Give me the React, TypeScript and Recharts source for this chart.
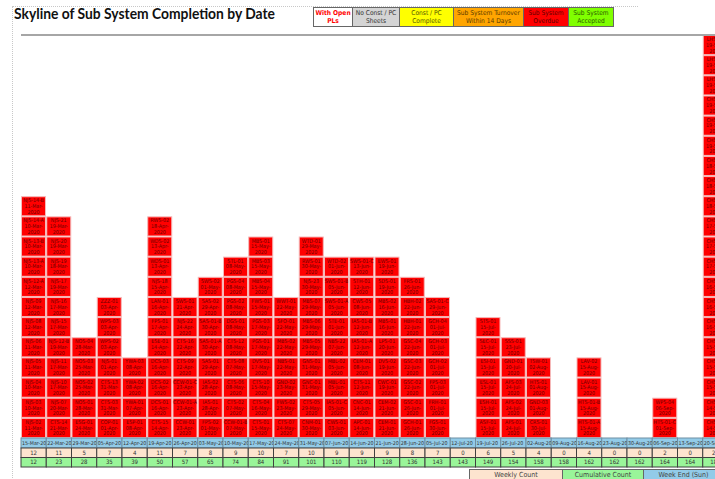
import React from 'react';
import { BarChart, Bar, XAxis, YAxis, ReferenceLine } from 'recharts';

const weeks = [
  '15-Mar-20', '22-Mar-20', '29-Mar-20', '05-Apr-20', '12-Apr-20', '19-Apr-20', '26-Apr-20',
  '03-May-20', '10-May-20', '17-May-20', '24-May-20', '31-May-20', '07-Jun-20', '14-Jun-20',
  '21-Jun-20', '28-Jun-20', '05-Jul-20', '12-Jul-20', '19-Jul-20', '26-Jul-20', '02-Aug-20',
  '09-Aug-20', '16-Aug-20', '23-Aug-20', '30-Aug-20', '06-Sep-20', '13-Sep-20', '20-Sep-20',
];

const weeklyCount = [12, 11, 5, 7, 4, 11, 7, 8, 9, 10, 7, 10, 9, 9, 9, 8, 7, 0, 6, 5, 4, 0, 4, 0, 0, 2, 0, 20];

const cumulativeCount = [12, 23, 28, 35, 39, 50, 57, 65, 74, 84, 91, 101, 110, 119, 128, 136, 143, 143, 149, 154, 158, 158, 162, 162, 162, 164, 164, 184];

// sub systems completed each week, listed bottom to top
const subsystems: string[][] = [
  ['NJS-02 11-Mar-2020', 'NJS-03 10-Mar-2020', 'NJS-04 10-Mar-2020', 'NJS-05 11-Mar-2020', 'NJS-06 11-Mar-2020', 'NJS-08 12-Mar-2020', 'NJS-09 12-Mar-2020', 'NJS-12-A 12-Mar-2020', 'NJS-13-A 10-Mar-2020', 'NJS-13-B 10-Mar-2020', 'NJS-14-A 10-Mar-2020', 'NJS-14-B 11-Mar-2020'],
  ['CTS-14 21-Mar-2020', 'NJS-07 20-Mar-2020', 'NJS-10 17-Mar-2020', 'NJS-11 17-Mar-2020', 'NJS-12-B 19-Mar-2020', 'NJS-15 17-Mar-2020', 'NJS-16 17-Mar-2020', 'NJS-17 19-Mar-2020', 'NJS-19 18-Mar-2020', 'NJS-20 19-Mar-2020', 'NJS-21 19-Mar-2020'],
  ['ESG-01 24-Mar-2020', 'NOS-01 28-Mar-2020', 'NOS-02 25-Mar-2020', 'NOS-03 25-Mar-2020', 'NOS-04 28-Mar-2020'],
  ['COP-01 01-Apr-2020', 'CTS-03 31-Mar-2020', 'CTS-13 31-Mar-2020', 'NJS-01 01-Apr-2020', 'WPS-02 03-Apr-2020', 'WPS-03 03-Apr-2020', 'ZZZ-01 03-Apr-2020'],
  ['ESP-01 08-Apr-2020', 'YWA-01 07-Apr-2020', 'YWA-02 08-Apr-2020', 'YWA-03 08-Apr-2020'],
  ['CTS-15 14-Apr-2020', 'DCS-01 16-Apr-2020', 'DCS-02 16-Apr-2020', 'DCS-03 16-Apr-2020', 'ESE-01 14-Apr-2020', 'FPS-01 17-Apr-2020', 'LAN-01 16-Apr-2020', 'NJS-18 15-Apr-2020', 'WDS-01 13-Apr-2020', 'WDS-02 13-Apr-2020', 'RWS-02 18-Apr-2020'],
  ['CCW-01 23-Apr-2020', 'CCW-01-A 23-Apr-2020', 'CCW-01-C 23-Apr-2020', 'CTS-09 22-Apr-2020', 'CTS-16 22-Apr-2020', 'NJS-22 24-Apr-2020', 'SWS-01 21-Apr-2020'],
  ['FPS-02 01-May-2020', 'IAS-01 28-Apr-2020', 'IAS-02 28-Apr-2020', 'SAS-01 29-Apr-2020', 'SAS-01-A 30-Apr-2020', 'SAS-01-B 30-Apr-2020', 'SAS-02 29-Apr-2020', 'SWS-02 01-May-2020'],
  ['CCW-01-B 07-May-2020', 'CTS-02 07-May-2020', 'CTS-06 08-May-2020', 'CTS-08 07-May-2020', 'CTS-12 08-May-2020', 'DGS-01 08-May-2020', 'PGS-02 08-May-2020', 'PGS-04 08-May-2020', 'STL-01 08-May-2020'],
  ['CTS-01 15-May-2020', 'CTS-04 16-May-2020', 'CTS-10 15-May-2020', 'DVS-01 17-May-2020', 'PGS-01 17-May-2020', 'PGS-03 17-May-2020', 'FWS-01 15-May-2020', 'MBS-04 15-May-2020', 'MBS-03 15-May-2020', 'MBS-01 15-May-2020'],
  ['CTS-07 24-May-2020', 'FWS-02 23-May-2020', 'GND-02 23-May-2020', 'NBS-01 22-May-2020', 'MBS-02 22-May-2020', 'SFO-01 22-May-2020', 'WWT-01 22-May-2020'],
  ['CNM-01 30-May-2020', 'CTS-05 29-May-2020', 'GNC-01 31-May-2020', 'GNS-01 31-May-2020', 'MBS-05 29-May-2020', 'MBS-06 29-May-2020', 'MBS-07 29-May-2020', 'NJS-23 30-May-2020', 'RWS-01 30-May-2020', 'WTD-01 29-May-2020'],
  ['CWS-01 03-Jun-2020', 'IAS-01-C 05-Jun-2020', 'MBL-01 05-Jun-2020', 'MBL-02 05-Jun-2020', 'NBS-22 07-Jun-2020', 'STE-01 01-Jun-2020', 'SWS-01-A 05-Jun-2020', 'SWS-01-B 05-Jun-2020', 'WTD-02 01-Jun-2020'],
  ['APC-01 14-Jun-2020', 'CNC-01 14-Jun-2020', 'CTS-11 12-Jun-2020', 'CEM-01 08-Jun-2020', 'IAS-01-A 12-Jun-2020', 'IAS-01-B 12-Jun-2020', 'CWS-05 08-Jun-2020', 'STH-01 12-Jun-2020', 'SWS-01-C 13-Jun-2020'],
  ['CEM-01 21-Jun-2020', 'CEM-02 21-Jun-2020', 'CWC-01 19-Jun-2020', 'DVS-02 19-Jun-2020', 'LPS-01 20-Jun-2020', 'MBS-01 16-Jun-2020', 'MBS-02 16-Jun-2020', 'SDS-01 19-Jun-2020', 'EWS-01 19-Jun-2020'],
  ['GCH-01 26-Jun-2020', 'GSC-01 26-Jun-2020', 'GSC-02 22-Jun-2020', 'GSC-03 22-Jun-2020', 'GSC-04 22-Jun-2020', 'HBH-01 22-Jun-2020', 'HBH-02 22-Jun-2020', 'FRS-01 26-Jun-2020'],
  ['FGS-01 30-Jun-2020', 'FRH-01 01-Jul-2020', 'FPS-03 01-Jul-2020', 'GCH-02 01-Jul-2020', 'GCH-03 01-Jul-2020', 'GCH-04 01-Jul-2020', 'SAS-01-C 29-Jun-2020'],
  [],
  ['ASF-01 15-Jul-2020', 'ESH-01 15-Jul-2020', 'ESL-01 15-Jul-2020', 'ESI-01 15-Jul-2020', 'SEC-01 15-Jul-2020', 'STS-01 15-Jul-2020'],
  ['AFS-01 24-Jul-2020', 'AFS-02 24-Jul-2020', 'AFS-03 24-Jul-2020', 'GND-01 20-Jul-2020', 'SSS-01 23-Jul-2020'],
  ['CRS-01 30-Jul-2020', 'GND-03 01-Aug-2020', 'HTS-01 01-Aug-2020', 'TSW-01 02-Aug-2020'],
  [],
  ['HTS-01-A 15-Aug-2020', 'HTS-01-B 15-Aug-2020', 'LAV-01 15-Aug-2020', 'LAV-02 15-Aug-2020'],
  [],
  [],
  ['HTS-01-C 01-Sep-2020', 'WPS-04 06-Sep-2020'],
  [],
  ['CHS-01 14-Sep-2020', 'CHS-02 14-Sep-2020', 'CHS-03 15-Sep-2020', 'CHS-04 15-Sep-2020', 'CHS-05 15-Sep-2020', 'CHS-06 16-Sep-2020', 'CHS-07 16-Sep-2020', 'CHS-08 16-Sep-2020', 'CHS-09 17-Sep-2020', 'CHS-10 17-Sep-2020', 'CHS-11 17-Sep-2020', 'CHS-12 18-Sep-2020', 'CHS-13 18-Sep-2020', 'CHS-14 18-Sep-2020', 'CHS-15 19-Sep-2020', 'CHS-16 19-Sep-2020', 'CHS-17 19-Sep-2020', 'LHS-01 19-Sep-2020', 'LHS-02 19-Sep-2020', 'LHS-03 19-Sep-2020'],
];

const statusLegend = [
  ['With Open', 'PLs'],
  ['No Const / PC', 'Sheets'],
  ['Const / PC', 'Complete'],
  ['Sub System Turnover', 'Within 14 Days'],
  ['Sub System', 'Overdue'],
  ['Sub System', 'Accepted'],
];

const rowLegend = ['Weekly Count', 'Cumulative Count', 'Week End (Sun)'];

// ---- layout / style (not data) ----
const statusStyle = [
  { left: 313, width: 39, bg: '#ffffff', color: '#ff0000', weight: 700 },
  { left: 352, width: 47, bg: '#d4d4d4', color: '#333333', weight: 400 },
  { left: 399, width: 54, bg: '#ffff00', color: '#555500', weight: 400 },
  { left: 453, width: 70, bg: '#ffa500', color: '#5a3a00', weight: 400 },
  { left: 523, width: 45, bg: '#ff0000', color: '#5a0000', weight: 400 },
  { left: 568, width: 46, bg: '#80ff00', color: '#2a5a00', weight: 400 },
];
const rowLegendStyle = [
  { left: 469, width: 93, bg: '#fde4cf' },
  { left: 562, width: 81, bg: '#99f599' },
  { left: 643, width: 80, bg: '#92cbe8' },
];

const PLOT_LEFT = 21;
const PLOT_TOP = 35;
const COL_W = 25.25;
const PLOT_BOTTOM = 438;
const CHART_W = PLOT_LEFT + weeks.length * COL_W + 2;
const AXIS_H = 30;
const CHART_H = PLOT_BOTTOM + AXIS_H + 2;
const SMALL_FONT = '"Liberation Sans Narrow", "DejaVu Sans Condensed", "Liberation Sans", Arial, sans-serif';

const data = weeks.map((week, i) => ({
  week,
  count: weeklyCount[i],
  cumulative: cumulativeCount[i],
  items: subsystems[i],
}));

function SkylineColumn(props: any) {
  const { x, y, width, height, index } = props;
  const entry = props.payload && props.payload.items ? props.payload : data[index];
  const n = entry.count;
  if (!n || !height) return null;
  const h = height / n;
  return (
    <g>
      {entry.items.map((label: string, k: number) => {
        const top = y + height - (k + 1) * h;
        const sp = label.indexOf(' ');
        const id = label.slice(0, sp);
        const date = label.slice(sp + 1);
        const cx = x + width / 2;
        return (
          <g key={k}>
            <rect x={x + 0.5} y={top + 0.5} width={width - 1} height={h - 1} fill="#ff0000" stroke="#f5b8b8" strokeWidth={1} />
            <g fontFamily={SMALL_FONT} fontSize={5.3} fill="#6a0000" textAnchor="middle">
              <text x={cx} y={top + 6}>{id}</text>
              <text x={cx} y={top + 11.8}>{date.slice(0, 7)}</text>
              <text x={cx} y={top + 17.6}>{date.slice(7)}</text>
            </g>
          </g>
        );
      })}
    </g>
  );
}

function TableTick(props: any) {
  const { x, y, payload } = props;
  const i = weeks.indexOf(payload.value);
  const left = x - COL_W / 2;
  const rows = [
    { h: 10, fill: '#92cbe8', stroke: '#6f8fa3', text: weeks[i], anchor: 'start', size: 5.3 },
    { h: 9.5, fill: '#fde4cf', stroke: '#404040', text: String(weeklyCount[i]), anchor: 'middle', size: 6 },
    { h: 9.5, fill: '#99f599', stroke: '#404040', text: String(cumulativeCount[i]), anchor: 'middle', size: 6 },
  ];
  let top = y;
  return (
    <g>
      {rows.map((r, k) => {
        const t = top;
        top += r.h;
        return (
          <g key={k}>
            <rect x={left} y={t} width={COL_W} height={r.h} fill={r.fill} stroke={r.stroke} strokeWidth={1} />
            <text
              x={r.anchor === 'start' ? left + 1 : x}
              y={t + r.h / 2 + 2}
              textAnchor={r.anchor as any}
              fontFamily={SMALL_FONT}
              fontSize={r.size}
              fill="#333"
            >
              {r.text}
            </text>
          </g>
        );
      })}
    </g>
  );
}

export default function App() {
  return (
    <div style={{ position: 'absolute', left: 0, top: 0, width: 715, height: 479, overflow: 'hidden', background: '#fff' }}>
      {/* page border hints */}
      <div style={{ position: 'absolute', left: 12, top: 6, width: 0, height: 480, borderLeft: '1px dotted #c8c8c8' }} />
      <div style={{ position: 'absolute', left: 12, top: 6, width: 626, height: 0, borderTop: '1px dotted #c8c8c8' }} />

      <svg style={{ position: 'absolute', left: 0, top: 0 }} width={300} height={30}>
        <text x={14} y={19} fontFamily="Lato, 'Open Sans', sans-serif" fontWeight={700} fontSize={15} fill="#111" textLength={261} lengthAdjust="spacingAndGlyphs">
          Skyline of Sub System Completion by Date
        </text>
      </svg>

      {statusLegend.map((lines, i) => {
        const s = statusStyle[i];
        return (
          <div
            key={i}
            style={{
              position: 'absolute', left: s.left, top: 7, width: s.width, height: 20, boxSizing: 'border-box',
              background: s.bg, border: '1px solid #666', borderRight: i === statusLegend.length - 1 ? '1px solid #666' : 'none',
              display: 'flex', flexDirection: 'column', justifyContent: 'center', alignItems: 'center',
              fontFamily: SMALL_FONT, fontSize: 6.6, lineHeight: '8px', color: s.color, fontWeight: s.weight, whiteSpace: 'nowrap',
            }}
          >
            <div>{lines[0]}</div>
            <div>{lines[1]}</div>
          </div>
        );
      })}

      <div style={{ position: 'absolute', left: 0, top: 0 }}>
        <BarChart
          width={CHART_W}
          height={CHART_H}
          data={data}
          margin={{ top: PLOT_TOP, left: PLOT_LEFT, right: 2, bottom: CHART_H - PLOT_BOTTOM - AXIS_H }}
          barCategoryGap={0}
          barGap={0}
        >
          <XAxis
            dataKey="week"
            interval={0}
            height={AXIS_H}
            tickLine={false}
            axisLine={false}
            tickSize={0}
            tickMargin={0}
            tick={(p: any) => <TableTick {...p} />}
          />
          <YAxis
            domain={[0, 20]}
            width={0}
            tick={false}
            tickLine={false}
            axisLine={{ stroke: '#1f2f8f', strokeDasharray: '2 1', strokeWidth: 1.5 }}
          />
          <ReferenceLine y={20} stroke="#a6a6a6" strokeWidth={2} />
          <Bar dataKey="count" isAnimationActive={false} shape={(p: any) => <SkylineColumn {...p} />} />
        </BarChart>
      </div>

      {rowLegend.map((label, i) => {
        const s = rowLegendStyle[i];
        return (
          <div
            key={label}
            style={{
              position: 'absolute', left: s.left, top: 469, width: s.width, height: 14, boxSizing: 'border-box',
              background: s.bg, border: '1px solid #666', borderRight: 'none',
              fontFamily: SMALL_FONT, fontSize: 7, lineHeight: '11px', color: '#444', textAlign: 'center',
            }}
          >
            {label}
          </div>
        );
      })}
    </div>
  );
}
